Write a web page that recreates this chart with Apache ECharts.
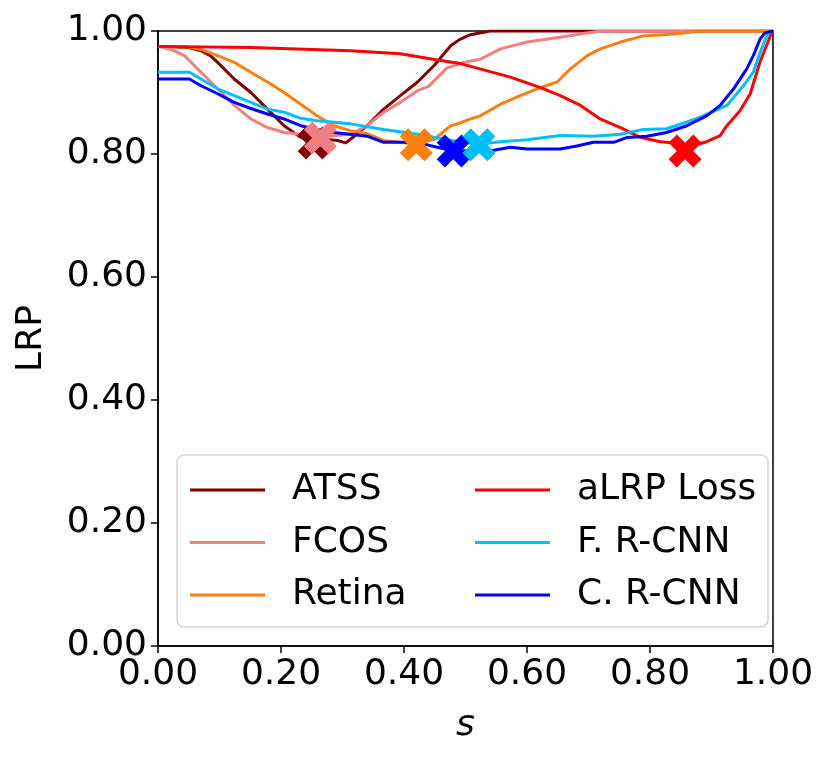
<!DOCTYPE html>
<html lang="en">
<head>
    <meta charset="UTF-8">
    <title>LRP vs s</title>
    <script src="https://cdn.jsdelivr.net/npm/echarts@6/dist/echarts.min.js"></script>
    <style>
html, body { margin:0; padding:0; background:#fff; }
#main { width:830px; height:760px; }
    </style>
</head>
<body>
<div id="main"></div>
<script type="text/javascript">
    // 各方法的曲线数据 (s, LRP)
    var sAtss   = [0, 0.05, 0.07, 0.085, 0.097, 0.124, 0.151, 0.178, 0.205, 0.232, 0.252, 0.27, 0.292, 0.305, 0.313, 0.34, 0.367, 0.394, 0.422, 0.449, 0.465, 0.476, 0.49, 0.508, 0.54, 1.0];
    var lrpAtss = [0.975, 0.973, 0.968, 0.960, 0.949, 0.922, 0.900, 0.873, 0.846, 0.827, 0.822, 0.824, 0.822, 0.818, 0.824, 0.846, 0.873, 0.895, 0.917, 0.944, 0.963, 0.976, 0.986, 0.994, 1.0, 1.0];

    var sFcos   = [0, 0.021, 0.043, 0.07, 0.097, 0.124, 0.151, 0.178, 0.205, 0.232, 0.265, 0.29, 0.313, 0.34, 0.367, 0.394, 0.422, 0.44, 0.455, 0.47, 0.497, 0.524, 0.557, 0.6, 0.654, 0.7, 0.72, 1.0];
    var lrpFcos = [0.975, 0.970, 0.960, 0.933, 0.906, 0.879, 0.857, 0.843, 0.835, 0.832, 0.828, 0.830, 0.832, 0.846, 0.868, 0.884, 0.903, 0.910, 0.925, 0.940, 0.949, 0.954, 0.971, 0.982, 0.990, 0.997, 1.0, 1.0];

    var sRetina   = [0, 0.05, 0.07, 0.097, 0.124, 0.151, 0.178, 0.205, 0.232, 0.259, 0.286, 0.313, 0.34, 0.367, 0.394, 0.42, 0.449, 0.476, 0.49, 0.508, 0.524, 0.557, 0.589, 0.622, 0.649, 0.67, 0.698, 0.719, 0.752, 0.789, 0.84, 0.88, 1.0];
    var lrpRetina = [0.975, 0.974, 0.970, 0.960, 0.949, 0.933, 0.917, 0.900, 0.881, 0.862, 0.846, 0.838, 0.833, 0.822, 0.819, 0.816, 0.824, 0.846, 0.850, 0.857, 0.862, 0.881, 0.895, 0.908, 0.917, 0.938, 0.960, 0.971, 0.982, 0.992, 0.995, 1.0, 1.0];

    var sAlrp   = [0, 0.151, 0.313, 0.394, 0.454, 0.492, 0.573, 0.622, 0.654, 0.687, 0.719, 0.752, 0.784, 0.817, 0.84, 0.857, 0.875, 0.892, 0.914, 0.925, 0.946, 0.963, 0.979, 0.998, 1.0];
    var lrpAlrp = [0.975, 0.973, 0.968, 0.963, 0.953, 0.947, 0.925, 0.908, 0.895, 0.879, 0.857, 0.843, 0.827, 0.820, 0.818, 0.810, 0.815, 0.820, 0.830, 0.846, 0.870, 0.898, 0.950, 0.998, 1.0];

    var sFrcnn   = [0, 0.051, 0.07, 0.097, 0.124, 0.151, 0.178, 0.205, 0.232, 0.259, 0.313, 0.367, 0.422, 0.465, 0.522, 0.557, 0.6, 0.654, 0.708, 0.752, 0.789, 0.827, 0.86, 0.882, 0.925, 0.952, 0.968, 0.979, 0.992, 1.0];
    var lrpFrcnn = [0.933, 0.933, 0.922, 0.906, 0.895, 0.884, 0.873, 0.868, 0.858, 0.854, 0.849, 0.840, 0.832, 0.824, 0.816, 0.820, 0.823, 0.830, 0.829, 0.832, 0.840, 0.841, 0.852, 0.860, 0.879, 0.911, 0.933, 0.965, 0.997, 1.0];

    var sCrcnn   = [0, 0.051, 0.07, 0.097, 0.124, 0.151, 0.178, 0.205, 0.232, 0.259, 0.286, 0.313, 0.34, 0.367, 0.4, 0.433, 0.454, 0.481, 0.546, 0.573, 0.6, 0.654, 0.681, 0.708, 0.741, 0.763, 0.795, 0.827, 0.86, 0.892, 0.914, 0.936, 0.957, 0.968, 0.979, 0.987, 1.0];
    var lrpCrcnn = [0.922, 0.922, 0.911, 0.898, 0.884, 0.874, 0.865, 0.857, 0.846, 0.840, 0.835, 0.832, 0.829, 0.819, 0.819, 0.816, 0.811, 0.805, 0.806, 0.811, 0.808, 0.808, 0.813, 0.819, 0.819, 0.827, 0.829, 0.835, 0.846, 0.862, 0.879, 0.906, 0.938, 0.960, 0.987, 0.997, 1.0];

    // 最优点 (X 标记)
    var markerNames = ['ATSS', 'FCOS', 'Retina', 'C. R-CNN', 'F. R-CNN', 'aLRP Loss'];
    var markerS     = [0.254, 0.264, 0.42, 0.48, 0.522, 0.857];
    var markerLrp   = [0.818, 0.826, 0.815, 0.805, 0.815, 0.805];

    var colors = {
        'ATSS': '#800000',
        'FCOS': '#f08080',
        'Retina': '#ff7f0e',
        'aLRP Loss': '#ff0000',
        'F. R-CNN': '#00bfff',
        'C. R-CNN': '#0000ff'
    };

    function zip(xs, ys) {
        return xs.map(function (x, i) { return [x, ys[i]]; });
    }

    var curves = [
        {name: 'ATSS', s: sAtss, lrp: lrpAtss},
        {name: 'FCOS', s: sFcos, lrp: lrpFcos},
        {name: 'Retina', s: sRetina, lrp: lrpRetina},
        {name: 'aLRP Loss', s: sAlrp, lrp: lrpAlrp},
        {name: 'F. R-CNN', s: sFrcnn, lrp: lrpFrcnn},
        {name: 'C. R-CNN', s: sCrcnn, lrp: lrpCrcnn}
    ];

    // 粗 X 标记 (类似 matplotlib 'X')
    var xPath = 'path://M2.5,0 L5,2.5 L7.5,0 L10,2.5 L7.5,5 L10,7.5 L7.5,10 L5,7.5 L2.5,10 L0,7.5 L2.5,5 L0,2.5 Z';
    var font = 'DejaVu Sans';

    var series = [];
    curves.forEach(function (c) {
        series.push({
            name: c.name,
            type: 'line',
            data: zip(c.s, c.lrp),
            showSymbol: false,
            symbol: 'none',
            z: 2,
            lineStyle: {color: colors[c.name], width: 3},
            itemStyle: {color: colors[c.name]}
        });
    });
    markerNames.forEach(function (n, i) {
        series.push({
            name: n + ' min',
            type: 'scatter',
            data: [[markerS[i], markerLrp[i]]],
            symbol: xPath,
            symbolSize: 33,
            z: 5,
            itemStyle: {color: colors[n], opacity: 1}
        });
    });

    var axisCommon = {
        type: 'value',
        min: 0,
        max: 1,
        interval: 0.2,
        axisLine: {show: true, onZero: false, lineStyle: {color: '#000', width: 1.5}},
        axisTick: {show: true, inside: false, length: 7, lineStyle: {color: '#000', width: 1.5}},
        splitLine: {show: false},
        axisLabel: {
            color: '#000',
            fontFamily: font,
            fontSize: 36,
            margin: 11,
            formatter: function (v) { return v.toFixed(2); }
        },
        nameLocation: 'middle',
        nameTextStyle: {color: '#000', fontFamily: font, fontSize: 36}
    };

    var legendCommon = {
        orient: 'vertical',
        padding: 0,
        itemWidth: 75,
        itemHeight: 3,
        itemGap: 12.5,
        icon: 'rect',
        selectedMode: false,
        z: 6,
        textStyle: {
            color: '#000',
            fontFamily: font,
            fontSize: 36,
            lineHeight: 40,
            padding: [0, 0, 0, 22]
        }
    };

    var myChart = echarts.init(document.getElementById('main'), null, {renderer: 'canvas'});
    myChart.setOption({
        animation: false,
        backgroundColor: '#fff',
        grid: {
            left: 158,
            top: 31,
            width: 615,
            height: 615,
            show: true,
            borderColor: '#000',
            borderWidth: 1.5,
            backgroundColor: 'transparent'
        },
        xAxis: Object.assign({}, axisCommon, {
            name: 's',
            nameGap: 62,
            nameTextStyle: {color: '#000', fontFamily: font, fontSize: 36, fontStyle: 'italic'}
        }),
        yAxis: Object.assign({}, axisCommon, {
            name: 'LRP',
            nameGap: 108
        }),
        legend: [
            Object.assign({}, legendCommon, {
                left: 190, top: 470,
                data: ['ATSS', 'FCOS', 'Retina']
            }),
            Object.assign({}, legendCommon, {
                left: 475, top: 470,
                data: ['aLRP Loss', 'F. R-CNN', 'C. R-CNN']
            })
        ],
        graphic: [{
            type: 'rect',
            z: 4,
            shape: {x: 177, y: 455, width: 591, height: 172, r: 7},
            style: {fill: 'rgba(255,255,255,0.8)', stroke: '#d4d4d4', lineWidth: 1.5}
        }],
        series: series
    });
</script>
</body>
</html>
